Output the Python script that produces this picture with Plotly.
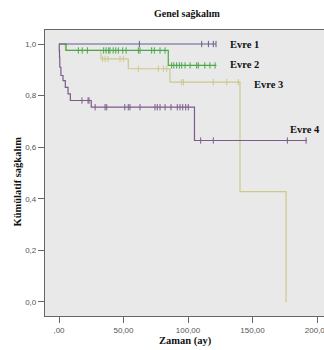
import plotly.graph_objects as go

# ---------------- data ----------------
groups = ["Evre 1", "Evre 2", "Evre 3", "Evre 4"]

evre1_t = [0, 121.7]
evre1_s = [1.0, 1.0]
evre1_cens = [62.3, 110.6, 115.8, 119.6, 121.7]

evre2_t = [0, 5.5, 84.7, 122]
evre2_s = [1.0, 0.975, 0.917, 0.917]
evre2_cens = [15, 18, 22, 34.6, 36.5, 38.5, 39.5, 42, 44, 46, 49.4, 52, 61.5, 62.8,
              71.8, 73.9, 78.3, 82.2, 87.3, 89, 91.2, 93.3, 95.1, 97.7, 101.6,
              106.7, 108, 113, 117, 121]

evre3_t = [0, 5, 32.5, 53.7, 86, 140.3, 176]
evre3_s = [1.0, 0.975, 0.942, 0.904, 0.852, 0.428, 0.0]
evre3_cens = [33.8, 35.7, 38, 47.3, 49.8, 61.5, 77, 80.9, 83.5, 95.1, 96.4,
              119.6, 130, 139]

evre4_t = [0, 0.2, 0.4, 0.6, 1.5, 3.1, 4.9, 7, 8.8, 25, 105, 192]
evre4_s = [1.0, 0.974, 0.948, 0.91, 0.878, 0.858, 0.832, 0.807, 0.781, 0.755, 0.626, 0.626]
evre4_cens = [17.8, 22.5, 23.3, 28, 35.7, 37, 51, 53.7, 55, 62.8, 74.4, 76.2, 78.3,
              82.2, 86.8, 91.7, 93.8, 95.9, 98.2, 100.2, 109.8, 119.6, 177, 191.5]

x_tickvals = [0, 50, 100, 150, 200]
x_ticktext = [",00", "50,00", "100,00", "150,00", "200,00"]
y_tickvals = [0, 0.2, 0.4, 0.6, 0.8, 1.0]
y_ticktext = ["0,0", "0,2", "0,4", "0,6", "0,8", "1,0"]

label_pos = {"Evre 1": (131, 1.0), "Evre 2": (131, 0.919),
             "Evre 3": (149.6, 0.845), "Evre 4": (177.5, 0.667)}

colors = {"Evre 1": "#5f5f94", "Evre 2": "#4aa84a",
          "Evre 3": "#cdc88c", "Evre 4": "#7d5a8c"}

series = {"Evre 1": (evre1_t, evre1_s, evre1_cens),
          "Evre 2": (evre2_t, evre2_s, evre2_cens),
          "Evre 3": (evre3_t, evre3_s, evre3_cens),
          "Evre 4": (evre4_t, evre4_s, evre4_cens)}


def step_value(ts, ss, t):
    v = ss[0]
    for ti, si in zip(ts, ss):
        if ti <= t:
            v = si
    return v


fig = go.Figure()
for g in ["Evre 3", "Evre 4", "Evre 2", "Evre 1"]:
    ts, ss, cens = series[g]
    fig.add_trace(go.Scatter(x=ts, y=ss, mode="lines", line_shape="hv",
                             line=dict(color=colors[g], width=1.2),
                             showlegend=False, hoverinfo="skip"))
    fig.add_trace(go.Scatter(x=cens, y=[step_value(ts, ss, c) for c in cens],
                             mode="markers",
                             marker=dict(symbol="line-ns", size=4.5,
                                         line=dict(color=colors[g], width=1)),
                             showlegend=False, hoverinfo="skip"))

serif = "Liberation Serif, Times New Roman, serif"
annotations = []
for g in groups:
    x, y = label_pos[g]
    annotations.append(dict(x=x, y=y, xref="x", yref="y", text="<b>%s</b>" % g,
                            showarrow=False, xanchor="left", yanchor="middle",
                            font=dict(family=serif, size=10.5, color="#111")))

annotations.append(dict(x=0.509, y=1.059, xref="paper", yref="paper",
                        text="<b>Genel sağkalım</b>", showarrow=False,
                        xanchor="center", yanchor="middle",
                        font=dict(family=serif, size=10, color="#111")))
annotations.append(dict(x=0.505, y=-0.087, xref="paper", yref="paper",
                        text="<b>Zaman (ay)</b>", showarrow=False,
                        xanchor="center", yanchor="middle",
                        font=dict(family=serif, size=10.5, color="#111")))
annotations.append(dict(x=-0.097, y=0.47, xref="paper", yref="paper",
                        text="<b>Kümülatif sağkalım</b>", showarrow=False,
                        textangle=-90, xanchor="center", yanchor="middle",
                        font=dict(family=serif, size=10.5, color="#111")))

fig.update_layout(
    width=324, height=350,
    margin=dict(l=45, r=0, t=30, b=34),
    paper_bgcolor="white",
    plot_bgcolor="#e9e9e9",
    annotations=annotations,
    xaxis=dict(range=[-10.85, 205.4], tickvals=x_tickvals, ticktext=x_ticktext,
               showgrid=False, zeroline=False, showline=True, linecolor="#666",
               linewidth=1.2, mirror=True, ticks="outside", ticklen=6,
               tickcolor="#666", automargin=False, ticklabeloverflow="allow",
               tickfont=dict(family="Liberation Sans, Arial, sans-serif", size=8, color="#555")),
    yaxis=dict(range=[-0.0543, 1.0543], tickvals=y_tickvals, ticktext=y_ticktext,
               showgrid=False, zeroline=False, showline=True, linecolor="#666",
               linewidth=1.2, ticks="outside", ticklen=6, tickcolor="#666",
               automargin=False,
               tickfont=dict(family="Liberation Sans, Arial, sans-serif", size=8, color="#555")),
)

fig.write_html("out.html", config={"displayModeBar": False},
               post_script="document.body.style.margin='0';document.body.style.overflow='hidden';")
